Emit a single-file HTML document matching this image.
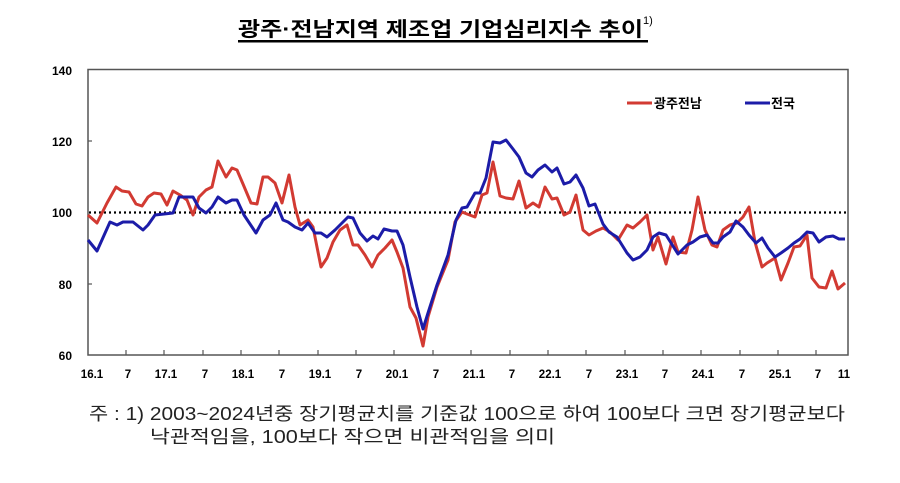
<!DOCTYPE html>
<html><head><meta charset="utf-8"><style>
html,body{margin:0;padding:0;background:#fff;}
svg{display:block;}
text{font-family:"Liberation Sans","Noto Sans CJK KR",sans-serif;}
</style></head><body>
<svg width="900" height="483" viewBox="0 0 900 483" xmlns="http://www.w3.org/2000/svg">
<text x="238" y="36" font-size="20" font-weight="bold" textLength="405" lengthAdjust="spacingAndGlyphs" font-family="'Noto Sans CJK KR',sans-serif">광주·전남지역 제조업 기업심리지수 추이</text>
<text x="643" y="24" font-size="11">1)</text>
<rect x="238" y="40" width="410" height="2.5" fill="#000"/>
<rect x="88" y="69.5" width="760" height="285.5" fill="none" stroke="#555" stroke-width="1.5"/>
<g font-size="12" font-weight="bold" text-anchor="end">
<text x="72" y="75">140</text><text x="72" y="146">120</text><text x="72" y="217">100</text><text x="72" y="289">80</text><text x="72" y="360">60</text>
</g>
<g stroke="#555" stroke-width="1.2">
<line x1="88" y1="141" x2="92" y2="141"/><line x1="88" y1="284" x2="92" y2="284"/>
<line x1="126" y1="355" x2="126" y2="350"/><line x1="164" y1="355" x2="164" y2="350"/><line x1="203" y1="355" x2="203" y2="350"/><line x1="241" y1="355" x2="241" y2="350"/><line x1="279" y1="355" x2="279" y2="350"/><line x1="318" y1="355" x2="318" y2="350"/><line x1="356" y1="355" x2="356" y2="350"/><line x1="394" y1="355" x2="394" y2="350"/><line x1="433" y1="355" x2="433" y2="350"/><line x1="471" y1="355" x2="471" y2="350"/><line x1="510" y1="355" x2="510" y2="350"/><line x1="548" y1="355" x2="548" y2="350"/><line x1="586" y1="355" x2="586" y2="350"/><line x1="625" y1="355" x2="625" y2="350"/><line x1="663" y1="355" x2="663" y2="350"/><line x1="701" y1="355" x2="701" y2="350"/><line x1="740" y1="355" x2="740" y2="350"/><line x1="778" y1="355" x2="778" y2="350"/><line x1="816" y1="355" x2="816" y2="350"/>
</g>
<g font-size="11.5" font-weight="bold" text-anchor="middle">
<text x="92" y="378">16.1</text><text x="128" y="378">7</text><text x="166" y="378">17.1</text><text x="205" y="378">7</text><text x="243" y="378">18.1</text><text x="282" y="378">7</text><text x="320" y="378">19.1</text><text x="359" y="378">7</text><text x="397" y="378">20.1</text><text x="436" y="378">7</text><text x="474" y="378">21.1</text><text x="512" y="378">7</text><text x="550" y="378">22.1</text><text x="589" y="378">7</text><text x="627" y="378">23.1</text><text x="665" y="378">7</text><text x="703" y="378">24.1</text><text x="742" y="378">7</text><text x="780" y="378">25.1</text><text x="818" y="378">7</text><text x="844" y="378">11</text>
</g>
<line x1="89" y1="212.5" x2="847" y2="212.5" stroke="#000" stroke-width="2.2" stroke-dasharray="2,3"/>
<polyline fill="none" stroke="#d23a32" stroke-width="3" stroke-linejoin="round" points="88,215 97,223 107,203 116,187 122,191 129,192 136,204 142,206 148,197 154,193 161,194 167,205 173,191 180,195 187,200 193,215 199,197 206,190 212,187 218,161 226,177 232,168 237,170 243,184 251,203 257,204 263,177 268,177 275,183 282,203 289,175 295,207 300,225 308,220 313,227 321,267 327,258 333,242 340,230 347,225 353,245 358,245 365,255 372,267 378,255 385,248 392,240 397,252 403,268 410,307 416,318 423,346 428,317 437,287 448,260 455,222 462,212 467,214 475,217 482,195 487,193 493,162 500,196 506,198 513,199 519,181 526,208 533,203 539,207 545,187 552,199 557,198 564,215 570,212 576,195 583,230 589,235 596,231 603,228 610,232 618,240 627,225 633,228 640,222 647,215 653,250 658,237 666,264 673,237 678,252 686,253 692,230 698,197 705,230 712,245 717,247 723,230 730,225 737,223 743,217 749,207 755,242 762,267 767,263 775,258 781,280 788,263 794,247 800,246 807,235 812,278 819,287 826,288 832,271 838,289 845,283"/>
<polyline fill="none" stroke="#1c1ca8" stroke-width="3" stroke-linejoin="round" points="88,240 97,251 110,222 117,225 123,222 133,222 143,230 148,225 155,215 173,213 179,197 193,197 199,208 206,213 212,207 218,197 226,203 232,200 237,200 244,215 256,233 263,220 270,215 276,203 283,220 288,222 295,227 302,230 308,223 315,233 321,233 327,237 335,230 348,217 353,218 360,233 367,241 373,236 378,239 384,229 392,231 397,231 403,245 410,277 417,307 423,329 428,313 437,285 448,255 456,220 462,208 467,207 475,193 480,193 486,178 493,142 500,143 506,140 513,149 519,157 526,173 532,177 538,170 545,165 552,172 557,168 564,184 570,182 576,175 583,188 589,206 595,204 603,224 609,232 617,237 627,253 633,260 640,257 647,250 653,237 659,233 666,235 678,254 687,245 693,242 700,237 707,235 713,243 718,243 723,237 730,232 736,221 743,227 749,235 756,243 762,238 768,248 775,257 781,253 788,248 794,243 800,239 807,232 813,233 819,242 826,237 833,236 839,239 845,239"/>
<line x1="627" y1="103" x2="652" y2="103" stroke="#d23a32" stroke-width="3"/>
<text x="654" y="108" font-size="13" font-weight="bold" font-family="'Noto Sans CJK KR',sans-serif">광주전남</text>
<line x1="745" y1="103" x2="770" y2="103" stroke="#1c1ca8" stroke-width="3"/>
<text x="771" y="108" font-size="13" font-weight="bold" font-family="'Noto Sans CJK KR',sans-serif">전국</text>
<text x="89" y="420" font-size="18" fill="#222" textLength="756" lengthAdjust="spacingAndGlyphs" font-family="'Noto Sans CJK KR',sans-serif">주 : 1) 2003~2024년중 장기평균치를 기준값 100으로 하여  100보다  크면 장기평균보다</text>
<text x="150" y="443" font-size="18" fill="#222" textLength="405" lengthAdjust="spacingAndGlyphs" font-family="'Noto Sans CJK KR',sans-serif">낙관적임을, 100보다 작으면  비관적임을 의미</text>
</svg>
</body></html>
